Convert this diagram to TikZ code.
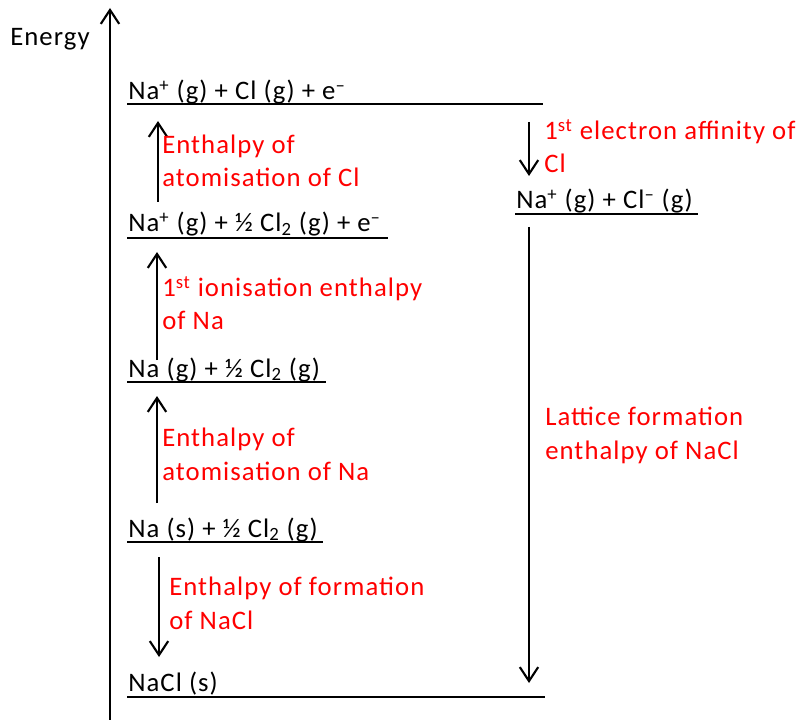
\documentclass[tikz,border=0pt]{standalone}
\usepackage{fontspec}
\setmainfont{Carlito}[LetterSpace=4]
\usetikzlibrary{arrows.meta}
\tikzset{
    species/.style={
        anchor=base west,
        inner sep=0pt,
        font=\fontsize{19}{23.5}\selectfont
    },
    steplabel/.style={
        anchor=base west,
        inner sep=0pt,
        align=left,
        text=red,
        font=\fontsize{19}{23.5}\selectfont
    },
    levelline/.style={
        line width=1.5pt
    },
    jump/.style={
        draw,
        line width=1.5pt,
        -{Straight Barb[length=3.5mm, width=4.6mm, line width=1.5pt]}
    }
}
\newcommand{\upp}{\textsuperscript{+}}
\newcommand{\dwn}{\textsuperscript{--}}
\newcommand{\two}{\textsubscript{2}}

\begin{document}
\begin{tikzpicture}[x=0.025cm, y=-0.025cm]
    \useasboundingbox (0,0) rectangle (806,720);

    % Energy axis
    \coordinate (axisfoot) at (110,720);
    \coordinate (axistop) at (110,8);
    \draw[jump] (axisfoot) -- (axistop);
    \node[species] (energy) at (10,46) {Energy};

    % Levels
    \node[species] (nacle) at (128,100) {Na\upp{} (g) + Cl (g) + e\dwn};
    \draw[levelline] (127,104) -- (543,104);
    \node[species] (nahalfe) at (128,232) {Na\upp{} (g) + ½ Cl\two{} (g) + e\dwn};
    \draw[levelline] (127,238) -- (388,238);
    \node[species] (nag) at (128,377) {Na (g) + ½ Cl\two{} (g)};
    \draw[levelline] (127,382) -- (326,382);
    \node[species] (nas) at (128,537) {Na (s) + ½ Cl\two{} (g)};
    \draw[levelline] (127,542) -- (323,542);
    \node[species] (nacls) at (128,691) {NaCl (s)};
    \draw[levelline] (127,697) -- (545,697);
    \node[species] (ions) at (516,209) {Na\upp{} (g) + Cl\dwn{} (g)};
    \draw[levelline] (515,214) -- (698,214);

    % Arrow ends
    \coordinate (a1s) at (158,202);
    \coordinate (a1e) at (158,121);
    \coordinate (a2s) at (157,360);
    \coordinate (a2e) at (157,252);
    \coordinate (a3s) at (157,503);
    \coordinate (a3e) at (157,396);
    \coordinate (a4s) at (159,557);
    \coordinate (a4e) at (159,657);
    \coordinate (a5s) at (529,122);
    \coordinate (a5e) at (529,176);
    \coordinate (a6s) at (529,227);
    \coordinate (a6e) at (529,683);

    % Steps
    \draw[jump] (a1s) -- (a1e);
    \draw[jump] (a2s) -- (a2e);
    \draw[jump] (a3s) -- (a3e);
    \draw[jump] (a4s) -- (a4e);
    \draw[jump] (a5s) -- (a5e);
    \draw[jump] (a6s) -- (a6e);

    % Step labels
    \node[steplabel] (atomcl) at (162,187) {Enthalpy of\\atomisation of Cl};
    \node[steplabel] (ionna) at (162,330) {1\textsuperscript{st} ionisation enthalpy\\of Na};
    \node[steplabel] (atomna) at (162,480) {Enthalpy of\\atomisation of Na};
    \node[steplabel] (formation) at (169,629) {Enthalpy of formation\\of NaCl};
    \node[steplabel] (affinity) at (544,173) {1\textsuperscript{st} electron affinity of\\Cl};
    \node[steplabel] (lattice) at (545,459) {Lattice formation\\enthalpy of NaCl};
\end{tikzpicture}
\end{document}
